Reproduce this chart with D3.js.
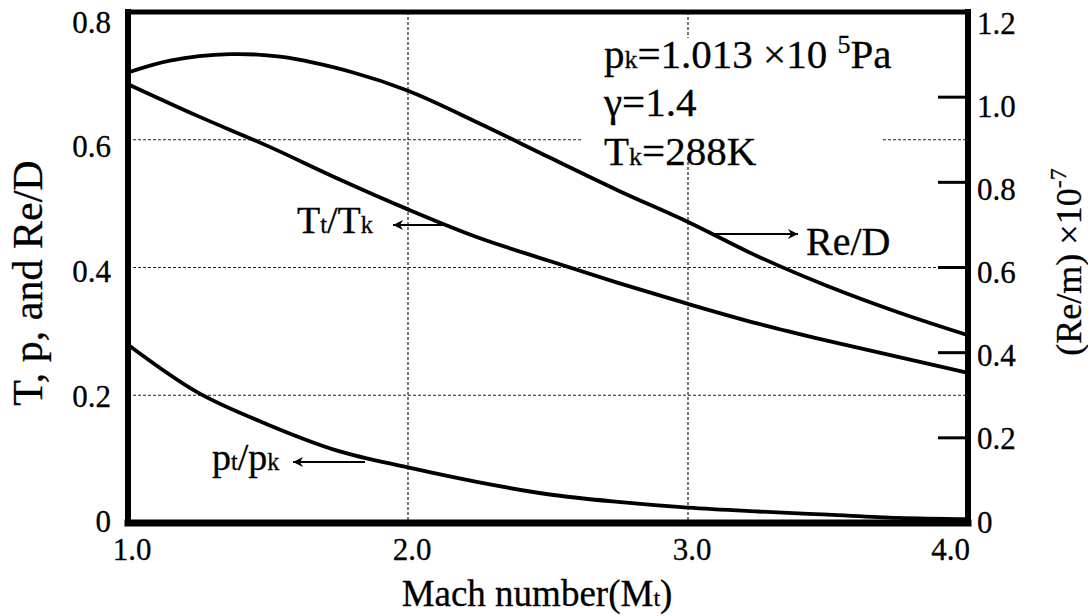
<!DOCTYPE html>
<html><head><meta charset="utf-8">
<script src="https://cdn.jsdelivr.net/npm/d3@7"></script>
<style>
html,body{margin:0;padding:0;background:#fff;}
svg{display:block;}
</style></head>
<body>
<svg id="chart" width="1088" height="616"></svg>
<script>
// ---- data ----
const mach = [1.0, 1.25, 1.5, 1.75, 2.0, 2.25, 2.5, 2.75, 3.0, 3.25, 3.5, 3.75, 4.0];
const tempRatio = [0.687, 0.637, 0.590, 0.539, 0.491, 0.447, 0.411, 0.376, 0.343, 0.312, 0.285, 0.260, 0.235];
const pressRatio = [0.279, 0.204, 0.154, 0.113, 0.087, 0.064, 0.045, 0.033, 0.024, 0.018, 0.013, 0.008, 0.006];
const reMach = [1.0, 1.15, 1.364, 1.543, 1.804, 2.0, 2.25, 2.5, 2.75, 3.0, 3.25, 3.5, 3.75, 4.0];
const reynolds = [1.058, 1.086, 1.101, 1.095, 1.058, 1.015, 0.940, 0.860, 0.781, 0.707, 0.626, 0.556, 0.495, 0.441];
const xTicks = [1.0, 2.0, 3.0, 4.0];
const xTickLabels = ["1.0", "2.0", "3.0", "4.0"];
const leftTicks = [0, 0.2, 0.4, 0.6, 0.8];
const leftTickLabels = ["0", "0.2", "0.4", "0.6", "0.8"];
const rightTicks = [0, 0.2, 0.4, 0.6, 0.8, 1.0, 1.2];
const rightTickLabels = ["0", "0.2", "0.4", "0.6", "0.8", "1.0", "1.2"];
const xGrid = [2.0, 3.0];
const yGrid = [0.2, 0.4, 0.6];

const FONT = "'Liberation Serif', 'Times New Roman', Times, serif";
const svg = d3.select("#chart");
const L = 128, R = 968, T = 12, B = 523;
const x = d3.scaleLinear().domain([1, 4]).range([L, R]);
const yL = d3.scaleLinear().domain([0, 0.8]).range([B, T]);
const yR = d3.scaleLinear().domain([0, 1.2]).range([B, T]);

function txt(sel) {
  return sel.attr("font-family", FONT).attr("fill", "#000")
    .attr("stroke", "#000").attr("stroke-width", 0.3);
}

// grid
const grid = svg.append("g").attr("stroke", "#222").attr("stroke-width", 1.2).attr("stroke-dasharray", "3,2");
grid.selectAll("line.h").data(yGrid).join("line")
  .attr("x1", L).attr("x2", R).attr("y1", d => yL(d)).attr("y2", d => yL(d));
grid.selectAll("line.v").data(xGrid).join("line")
  .attr("x1", d => x(d)).attr("x2", d => x(d)).attr("y1", T).attr("y2", B);

// white box behind annotation
svg.append("rect").attr("x", 583).attr("y", 38).attr("width", 298).attr("height", 120).attr("fill", "#fff");

// right inner ticks
svg.append("g").selectAll("line").data(rightTicks.filter(d => d > 0 && d < 1.2)).join("line")
  .attr("x1", R - 30).attr("x2", R).attr("y1", d => yR(d)).attr("y2", d => yR(d))
  .attr("stroke", "#000").attr("stroke-width", 3);

// curves
const line = d3.line().curve(d3.curveCatmullRom.alpha(0.5));
function drawSeries(xs, ys, yScale) {
  svg.append("path")
    .attr("d", line(xs.map((m, i) => [x(m), yScale(ys[i])])))
    .attr("fill", "none").attr("stroke", "#000").attr("stroke-width", 3.8)
    .attr("stroke-linejoin", "round").attr("stroke-linecap", "round");
}
drawSeries(mach, tempRatio, yL);
drawSeries(mach, pressRatio, yL);
drawSeries(reMach, reynolds, yR);

// frame
const frame = svg.append("g").attr("stroke", "#000").attr("stroke-linecap", "square");
frame.append("line").attr("x1", L).attr("x2", R).attr("y1", T).attr("y2", T).attr("stroke-width", 5);
frame.append("line").attr("x1", L).attr("x2", R).attr("y1", B).attr("y2", B).attr("stroke-width", 7);
frame.append("line").attr("x1", L).attr("x2", L).attr("y1", T).attr("y2", B).attr("stroke-width", 6);
frame.append("line").attr("x1", R).attr("x2", R).attr("y1", T).attr("y2", B).attr("stroke-width", 6);

// tick labels
const tickFont = 31;
txt(svg.append("g").selectAll("text").data(leftTicks).join("text")
  .attr("x", 111).attr("y", d => yL(d) + 12 * d / 0.8 - 2)
  .attr("dominant-baseline", "central").attr("text-anchor", "end")
  .attr("font-size", tickFont).text((d, i) => leftTickLabels[i]));
txt(svg.append("g").selectAll("text").data(rightTicks).join("text")
  .attr("x", 977).attr("y", d => yR(d) + 12 * d / 1.2 - 1)
  .attr("dominant-baseline", "central").attr("text-anchor", "start")
  .attr("font-size", tickFont).text((d, i) => rightTickLabels[i]));
txt(svg.append("g").selectAll("text").data(xTicks).join("text")
  .attr("x", d => d === 4 ? x(d) + 2 : x(d) + 4).attr("y", 560)
  .attr("text-anchor", d => d === 4 ? "end" : "middle")
  .attr("font-size", tickFont).text((d, i) => xTickLabels[i]));

// axis titles
const xt = txt(svg.append("text")).attr("x", 537).attr("y", 606).attr("text-anchor", "middle").attr("font-size", 37);
xt.append("tspan").text("Mach number(M");
xt.append("tspan").attr("font-size", 24).text("t");
xt.append("tspan").text(")");

txt(svg.append("text")).attr("transform", "translate(42,283) rotate(-90)")
  .attr("text-anchor", "middle").attr("font-size", 42).text("T, p, and Re/D");

const rt = txt(svg.append("text")).attr("transform", "translate(1081,262) rotate(-90)")
  .attr("text-anchor", "middle").attr("font-size", 36);
rt.append("tspan").text("(Re/m) \u00d710");
rt.append("tspan").attr("font-size", 24).attr("dy", -15).text("-7");

// annotation
const a1 = txt(svg.append("text")).attr("x", 604).attr("y", 68).attr("font-size", 41);
a1.append("tspan").text("p");
a1.append("tspan").attr("font-size", 26).text("k");
a1.append("tspan").text("=1.013 \u00d710 ");
a1.append("tspan").attr("font-size", 26).attr("dy", -15).text("5");
a1.append("tspan").attr("dy", 15).text("Pa");
txt(svg.append("text")).attr("x", 604).attr("y", 116).attr("font-size", 41).text("\u03b3=1.4");
const a3 = txt(svg.append("text")).attr("x", 604).attr("y", 165).attr("font-size", 41);
a3.append("tspan").text("T");
a3.append("tspan").attr("font-size", 26).text("k");
a3.append("tspan").text("=288K");

// series labels with arrows
svg.append("defs").append("marker").attr("id", "arr").attr("viewBox", "0 0 10 10")
  .attr("refX", 10).attr("refY", 5).attr("markerWidth", 16).attr("markerHeight", 10)
  .attr("markerUnits", "userSpaceOnUse").attr("orient", "auto")
  .append("path").attr("d", "M0,0 L10,5 L0,10 L3,5 Z").attr("fill", "#000");

function label(xPos, yPos, size, main, sub1, main2, sub2) {
  const t = txt(svg.append("text")).attr("x", xPos).attr("y", yPos).attr("font-size", size);
  t.append("tspan").text(main);
  t.append("tspan").attr("font-size", size * 0.64).text(sub1);
  t.append("tspan").text(main2);
  if (sub2) t.append("tspan").attr("font-size", size * 0.64).text(sub2);
}
label(297, 233, 38, "T", "t", "/T", "k");
svg.append("line").attr("x1", 447).attr("x2", 393).attr("y1", 225).attr("y2", 225)
  .attr("stroke", "#000").attr("stroke-width", 2).attr("marker-end", "url(#arr)");

label(212, 470, 38, "p", "t", "/p", "k");
svg.append("line").attr("x1", 365).attr("x2", 293).attr("y1", 462).attr("y2", 462)
  .attr("stroke", "#000").attr("stroke-width", 2).attr("marker-end", "url(#arr)");

txt(svg.append("text")).attr("x", 806).attr("y", 255).attr("font-size", 40).text("Re/D");
svg.append("line").attr("x1", 713).attr("x2", 798).attr("y1", 234).attr("y2", 234)
  .attr("stroke", "#000").attr("stroke-width", 2).attr("marker-end", "url(#arr)");
</script>
</body></html>
